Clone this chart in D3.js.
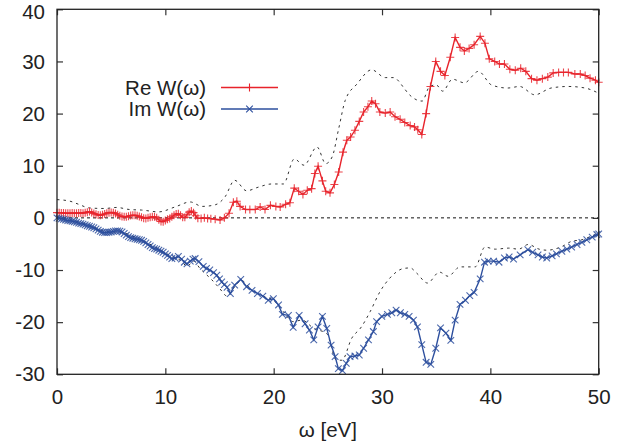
<!DOCTYPE html>
<html><head><meta charset="utf-8">
<script src="https://cdn.jsdelivr.net/npm/d3@7"></script>
<style>body{margin:0;background:#fff}svg{display:block}text{font-family:"Liberation Sans",Arial,sans-serif;fill:#222}</style>
</head><body>
<svg id="c" width="643" height="448"></svg>
<script>
const xTicks=[0,10,20,30,40,50];
const yTicks=[-30,-20,-10,0,10,20,30,40];
const seriesNames=["Re W(\u03c9)","Im W(\u03c9)"];
const xTitle="\u03c9 [eV]";
const reData=[[0,1.0],[0.2,1.0],[0.4,0.95],[0.6,0.95],[0.8,0.9],[1.0,0.9],[1.2,0.9],[1.4,0.95],[1.6,0.9],[1.8,0.9],[2.0,0.95],[2.2,0.95],[2.4,0.9],[2.6,1.0],[2.8,1.1],[3.0,1.2],[3.2,1.05],[3.4,0.85],[3.6,0.7],[3.8,0.55],[4.0,0.5],[4.2,0.6],[4.4,0.75],[4.6,0.9],[4.8,1.0],[5.0,1.05],[5.2,1.0],[5.4,0.85],[5.6,0.6],[5.8,0.4],[6.0,0.25],[6.2,0.2],[6.4,0.2],[6.6,0.3],[6.8,0.45],[7.0,0.5],[7.2,0.5],[7.4,0.4],[7.6,0.25],[7.8,0.1],[8.0,-0.05],[8.2,-0.1],[8.4,0.0],[8.6,0.1],[8.8,0.2],[9.0,0.2],[9.2,0.0],[9.4,-0.35],[9.6,-0.7],[9.8,-0.75],[10.0,-0.5],[10.2,-0.25],[10.4,-0.1],[10.6,0.2],[10.8,0.5],[11.0,0.75],[11.2,0.8],[11.4,0.5],[11.6,0.1],[11.8,0.1],[12.0,0.6],[12.2,1.1],[12.4,1.3],[12.6,1.0],[12.8,0.4],[13.0,-0.05],[13.3,-0.1],[13.6,0.0],[13.9,-0.1],[14.2,-0.15],[14.6,-0.25],[15.05,-0.4],[15.45,0.0],[15.88,0.9],[16.28,3.0],[16.6,3.2],[16.9,2.2],[17.4,1.6],[17.8,1.6],[18.3,1.6],[18.75,2.1],[19.2,1.6],[19.7,2.4],[20.2,2.2],[20.6,2.1],[21.1,2.6],[21.5,2.9],[21.9,5.7],[22.3,5.1],[22.7,4.5],[23.1,5.3],[23.5,5.6],[23.8,8.5],[24.1,9.9],[24.5,7.1],[24.8,5.1],[25.2,4.8],[25.6,6.4],[26.0,8.8],[26.4,12.6],[26.75,14.9],[27.1,15.5],[27.5,16.8],[27.9,18.5],[28.3,20.3],[28.7,21.3],[29.05,22.4],[29.4,21.9],[29.8,20.3],[30.3,20.1],[30.75,20.3],[31.2,19.4],[31.67,18.9],[32.1,18.3],[32.6,17.7],[33.0,17.45],[33.3,16.9],[33.67,16.0],[34.07,20.0],[34.47,25.2],[34.96,30.0],[35.4,28.1],[35.8,27.3],[36.3,30.8],[36.75,34.6],[37.2,32.7],[37.6,32.0],[38.04,32.5],[38.5,33.2],[39.06,34.8],[39.5,33.5],[39.9,30.5],[40.4,30.0],[40.84,29.5],[41.3,29.5],[41.8,28.5],[42.3,28.3],[42.8,28.7],[43.27,28.1],[43.8,26.7],[44.3,26.4],[44.8,26.7],[45.3,27.0],[45.8,27.8],[46.3,27.9],[46.75,27.9],[47.2,27.9],[47.8,27.6],[48.3,27.6],[48.75,27.3],[49.2,26.8],[49.7,26.4],[50.0,26.0]];
const imData=[[0,0.0],[0.2,-0.1],[0.4,-0.2],[0.6,-0.3],[0.8,-0.4],[1.0,-0.5],[1.2,-0.55],[1.4,-0.65],[1.6,-0.75],[1.8,-0.85],[2.0,-1.0],[2.2,-1.1],[2.4,-1.2],[2.6,-1.35],[2.8,-1.5],[3.0,-1.6],[3.2,-1.75],[3.4,-1.9],[3.6,-2.1],[3.8,-2.35],[4.0,-2.6],[4.2,-2.75],[4.4,-2.8],[4.6,-2.8],[4.8,-2.75],[5.0,-2.7],[5.2,-2.6],[5.4,-2.5],[5.6,-2.5],[5.8,-2.55],[6.0,-2.7],[6.2,-3.0],[6.4,-3.3],[6.6,-3.6],[6.8,-3.8],[7.0,-3.9],[7.2,-4.0],[7.4,-4.1],[7.6,-4.2],[7.8,-4.3],[8.0,-4.5],[8.2,-4.8],[8.4,-5.1],[8.6,-5.4],[8.8,-5.7],[9.0,-5.9],[9.2,-6.0],[9.4,-6.2],[9.6,-6.4],[9.8,-6.6],[10.0,-6.9],[10.2,-7.2],[10.4,-7.5],[10.6,-7.8],[10.9,-7.7],[11.2,-7.4],[11.5,-7.9],[11.75,-8.5],[12.0,-8.8],[12.3,-8.3],[12.55,-7.9],[12.75,-7.8],[13.1,-8.4],[13.5,-9.3],[13.8,-9.7],[14.1,-10.0],[14.45,-10.5],[14.75,-11.0],[15.0,-11.7],[15.2,-12.3],[15.45,-12.8],[15.7,-13.3],[16.0,-14.5],[16.4,-12.9],[16.96,-11.8],[17.5,-13.2],[18.0,-13.9],[18.5,-14.5],[19.0,-15.0],[19.5,-15.8],[19.97,-15.5],[20.45,-16.7],[20.8,-18.5],[21.36,-18.7],[21.8,-21.0],[22.35,-18.7],[22.9,-20.3],[23.3,-21.5],[23.7,-23.4],[24.1,-20.9],[24.5,-18.9],[24.9,-21.2],[25.3,-24.4],[25.67,-26.6],[25.97,-28.9],[26.35,-29.3],[26.7,-27.9],[27.05,-26.6],[27.5,-26.5],[27.9,-26.3],[28.3,-25.0],[28.75,-23.4],[29.2,-21.8],[29.5,-19.9],[29.98,-18.9],[30.5,-18.5],[30.9,-18.2],[31.3,-17.7],[31.7,-18.2],[32.1,-18.5],[32.5,-18.9],[32.9,-19.6],[33.27,-20.9],[33.67,-24.3],[34.07,-27.7],[34.5,-28.1],[34.96,-25.0],[35.4,-21.1],[35.9,-22.1],[36.35,-23.5],[36.75,-19.6],[37.2,-16.6],[37.7,-15.8],[38.1,-14.9],[38.5,-14.3],[39.06,-11.7],[39.46,-8.5],[39.8,-8.3],[40.3,-8.3],[40.8,-8.5],[41.3,-7.7],[41.73,-7.5],[42.14,-7.9],[42.75,-7.1],[43.46,-6.1],[43.9,-6.6],[44.4,-7.1],[44.8,-7.5],[45.2,-7.7],[45.7,-7.3],[46.1,-6.9],[46.6,-6.4],[47.06,-6.0],[47.5,-5.6],[48.0,-5.1],[48.45,-4.7],[48.9,-4.2],[49.4,-3.7],[49.83,-3.2],[50.0,-3.1]];
const upperBound=[[0,3.5],[1.2,3.2],[2.0,2.6],[3.0,1.9],[4.4,1.8],[5.5,2.0],[6.7,1.6],[7.8,1.5],[9.4,1.15],[10.9,2.1],[12.3,3.05],[13.4,2.2],[14.6,2.5],[15.5,4.0],[16.4,7.2],[17.5,5.2],[18.6,5.9],[19.8,6.5],[20.9,6.5],[21.9,11.3],[22.8,10.1],[24.0,13.6],[24.8,10.4],[25.4,11.7],[26.0,17.1],[26.6,22.5],[27.7,25.7],[29.05,28.4],[30.3,26.9],[31.05,26.9],[32.1,24.7],[32.4,23.9],[33.7,22.4],[34.4,25.2],[35.0,25.5],[35.6,24.3],[36.5,26.6],[37.6,25.9],[38.9,28.1],[40.1,25.5],[41.6,24.9],[42.7,25.2],[44.1,23.6],[45.6,24.9],[47.2,25.2],[48.75,24.9],[50,23.9]];
const lowerBound=[[0,0.1],[1.5,-0.5],[3.0,-1.4],[4.5,-2.6],[6.0,-2.8],[7.5,-4.0],[9.0,-5.5],[10.5,-7.3],[11.5,-8.3],[12.0,-9.3],[12.6,-8.3],[13.2,-9.7],[14.3,-11.9],[15.0,-13.5],[15.7,-15.0],[16.4,-13.2],[17.0,-12.0],[18.0,-13.9],[19.0,-15.0],[20.0,-15.8],[20.9,-18.0],[21.8,-19.9],[22.6,-19.6],[23.7,-21.2],[24.9,-22.2],[25.8,-27.3],[26.3,-27.3],[27.2,-23.1],[28.1,-20.9],[28.9,-18.0],[29.8,-14.2],[30.7,-11.6],[32.0,-9.7],[32.6,-9.6],[33.2,-10.6],[34.2,-12.5],[35.3,-10.4],[36.1,-11.2],[37.2,-9.4],[38.6,-9.4],[39.5,-5.6],[40.45,-6.0],[41.7,-5.8],[42.6,-6.0],[43.5,-5.1],[44.5,-6.0],[45.2,-6.2],[46.6,-5.5],[47.5,-4.5],[48.45,-4.2],[49.7,-3.2],[50,-3.0]];

const RED="#e8232b", BLUE="#2d4f9e";
const svg=d3.select("#c");
const L=57,R=598.7,T=9.3,B=374.3;
const x=d3.scaleLinear().domain([0,50]).range([L,R]);
const y=d3.scaleLinear().domain([-30,40]).range([B,T]);
const fs="20.5px";

const gl=svg.append("g").attr("transform",`translate(${L},0)`).call(d3.axisLeft(y).tickValues(yTicks).tickSize(-6).tickPadding(12).tickFormat(d=>String(d)));
const gr=svg.append("g").attr("transform",`translate(${R},0)`).call(d3.axisRight(y).tickValues(yTicks).tickSize(-6).tickFormat(""));
const gb=svg.append("g").attr("transform",`translate(0,${B})`).call(d3.axisBottom(x).tickValues(xTicks).tickSize(-6).tickPadding(15).tickFormat(d=>String(d)));
const gt=svg.append("g").attr("transform",`translate(0,${T})`).call(d3.axisTop(x).tickValues(xTicks).tickSize(-6).tickFormat(""));
[gl,gr,gb,gt].forEach(g=>{g.select(".domain").remove();g.selectAll("line").attr("stroke","#333").attr("stroke-width",1.2);g.selectAll("text").attr("font-size",fs).attr("fill","#222").attr("font-family","Liberation Sans, Arial, sans-serif");});
// keep the top label inside the picture
gl.selectAll(".tick").filter(d=>d===40).select("text").attr("dy","0.45em");

const line=d3.line().x(d=>x(d[0])).y(d=>y(d[1]));
const smooth=d3.line().x(d=>x(d[0])).y(d=>y(d[1])).curve(d3.curveMonotoneX);
const plot=svg.append("g");
plot.append("path").attr("d",line([[0,0],[50,0]])).attr("fill","none").attr("stroke","#111").attr("stroke-width",1).attr("stroke-dasharray","3,3");
[upperBound,lowerBound].forEach(s=>plot.append("path").attr("d",smooth(s)).attr("fill","none").attr("stroke","#333").attr("stroke-width",1).attr("stroke-dasharray","2.5,4"));

function drawSeries(data,color,shape){
  plot.append("path").attr("d",line(data)).attr("fill","none").attr("stroke",color).attr("stroke-width",1.4);
  plot.append("g").selectAll("path").data(data).join("path")
    .attr("transform",d=>`translate(${x(d[0])},${y(d[1])})`)
    .attr("d",shape).attr("stroke",color).attr("stroke-width",1.1).attr("fill","none").attr("stroke-opacity",0.85);
}
const plus="M-4,0H4M0,-4V4", cross="M-3.3,-3.3L3.3,3.3M-3.3,3.3L3.3,-3.3";
drawSeries(reData,RED,plus);
drawSeries(imData,BLUE,cross);

svg.append("rect").attr("x",L).attr("y",T).attr("width",R-L).attr("height",B-T).attr("fill","none").attr("stroke","#222").attr("stroke-width",1.3);

const leg=[{name:seriesNames[0],c:RED,s:plus,yy:87.5},{name:seriesNames[1],c:BLUE,s:cross,yy:109}];
leg.forEach(o=>{
  svg.append("text").attr("x",206).attr("y",o.yy).attr("dy","0.35em").attr("text-anchor","end").attr("font-size","20.5px").text(o.name);
  svg.append("line").attr("x1",221).attr("x2",278).attr("y1",o.yy).attr("y2",o.yy).attr("stroke",o.c).attr("stroke-width",1.4);
  svg.append("path").attr("transform",`translate(249.5,${o.yy})`).attr("d",o.s).attr("stroke",o.c).attr("stroke-width",1.1).attr("fill","none");
});
svg.append("text").attr("x",(L+R)/2).attr("y",437).attr("text-anchor","middle").attr("font-size","20.5px").text(xTitle);
</script></body></html>
